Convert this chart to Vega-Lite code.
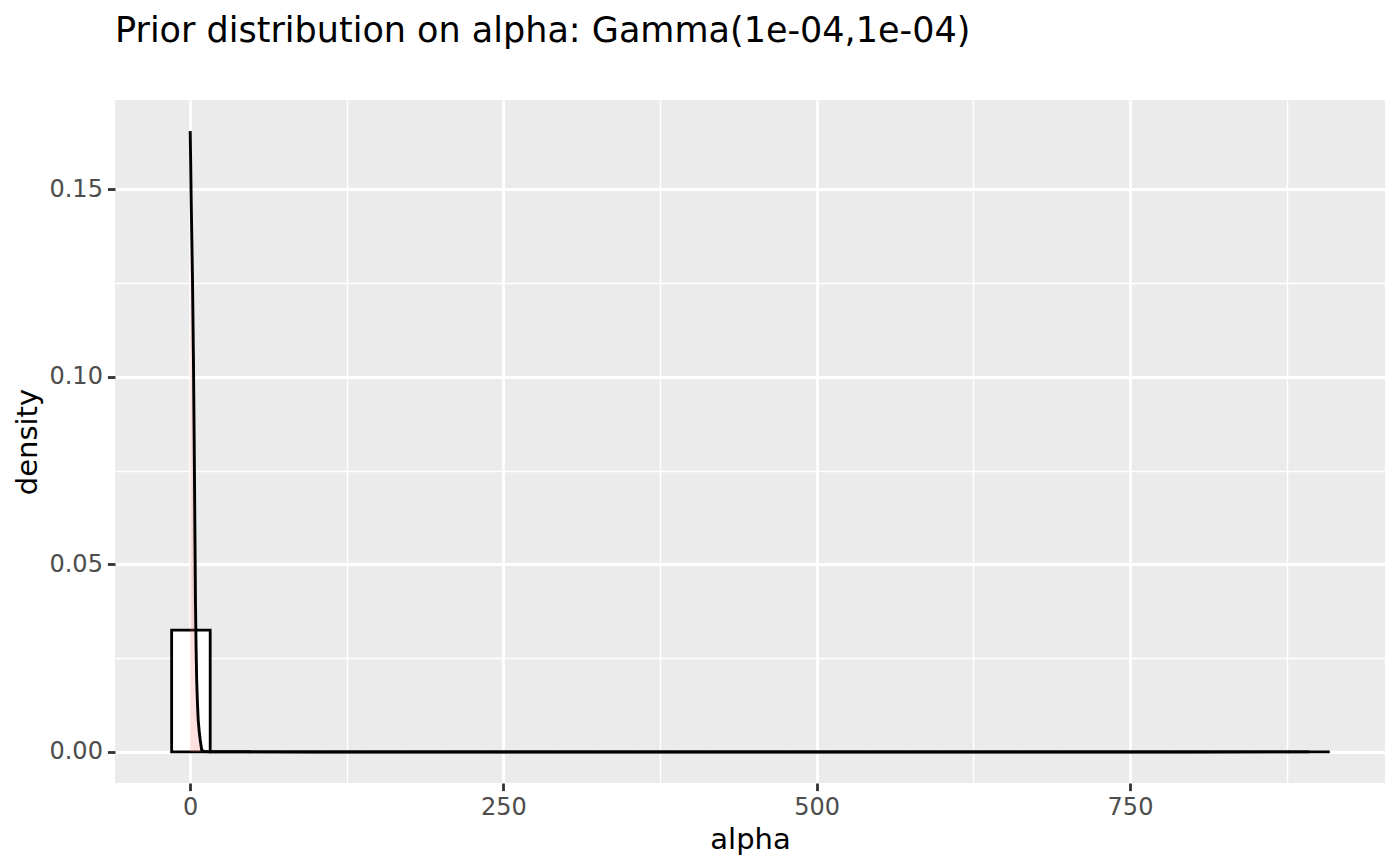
{
  "$schema": "https://vega.github.io/schema/vega-lite/v6.json",
  "width": 1270,
  "height": 683,
  "autosize": {"type": "none"},
  "padding": {"left": 115, "top": 100, "right": 15, "bottom": 83},
  "background": "white",
  "config": {
    "view": {"fill": "#EBEBEB", "stroke": null},
    "axis": {
      "domain": false,
      "gridColor": "white",
      "tickColor": "#333333",
      "tickWidth": 2.8,
      "tickSize": 7.6,
      "labelColor": "#4D4D4D",
      "labelFont": "DejaVu Sans",
      "labelFontSize": 24,
      "labelPadding": 5,
      "titleFont": "DejaVu Sans",
      "titleFontSize": 29,
      "titleFontWeight": "normal",
      "titleColor": "black",
      "titlePadding": 6
    }
  },
  "title": {
    "text": "Prior distribution on alpha: Gamma(1e-04,1e-04)",
    "anchor": "start",
    "frame": "group",
    "font": "DejaVu Sans",
    "fontSize": 35,
    "fontWeight": "normal",
    "color": "black",
    "baseline": "alphabetic",
    "offset": 23
  },
  "datasets": {
    "hist": [
      {"start": -14.80, "end": 15.97, "density": 0.0325},
      {"start": 15.97, "end": 46.74, "density": 0.0001},
      {"start": 46.74, "end": 77.51, "density": 0},
      {"start": 77.51, "end": 108.28, "density": 0},
      {"start": 108.28, "end": 139.05, "density": 0},
      {"start": 139.05, "end": 169.82, "density": 0},
      {"start": 169.82, "end": 200.59, "density": 0},
      {"start": 200.59, "end": 231.36, "density": 0},
      {"start": 231.36, "end": 262.13, "density": 0},
      {"start": 262.13, "end": 292.90, "density": 0},
      {"start": 292.90, "end": 323.67, "density": 0},
      {"start": 323.67, "end": 354.44, "density": 0},
      {"start": 354.44, "end": 385.21, "density": 0},
      {"start": 385.21, "end": 415.98, "density": 0},
      {"start": 415.98, "end": 446.75, "density": 0},
      {"start": 446.75, "end": 477.52, "density": 0},
      {"start": 477.52, "end": 508.29, "density": 0},
      {"start": 508.29, "end": 539.06, "density": 0},
      {"start": 539.06, "end": 569.83, "density": 0},
      {"start": 569.83, "end": 600.60, "density": 0},
      {"start": 600.60, "end": 631.37, "density": 0},
      {"start": 631.37, "end": 662.14, "density": 0},
      {"start": 662.14, "end": 692.91, "density": 0},
      {"start": 692.91, "end": 723.68, "density": 0},
      {"start": 723.68, "end": 754.45, "density": 0},
      {"start": 754.45, "end": 785.22, "density": 0},
      {"start": 785.22, "end": 815.99, "density": 0},
      {"start": 815.99, "end": 846.76, "density": 0},
      {"start": 846.76, "end": 877.53, "density": 0},
      {"start": 877.53, "end": 908.30, "density": 0.00003}
    ],
    "dens": [
      {"x": 0, "density": 0.1655},
      {"x": 0.4, "density": 0.157},
      {"x": 0.8, "density": 0.147},
      {"x": 1.3, "density": 0.137},
      {"x": 1.85, "density": 0.126},
      {"x": 2.6, "density": 0.1046},
      {"x": 3.2, "density": 0.083},
      {"x": 3.7, "density": 0.062},
      {"x": 4.2, "density": 0.0406},
      {"x": 4.7, "density": 0.028},
      {"x": 5.2, "density": 0.019},
      {"x": 5.8, "density": 0.013},
      {"x": 6.4, "density": 0.0085},
      {"x": 7.2, "density": 0.0055},
      {"x": 8.0, "density": 0.0032},
      {"x": 9.2, "density": 0.0005},
      {"x": 11, "density": 0.0001},
      {"x": 20, "density": 0.00002},
      {"x": 50, "density": 0.00001},
      {"x": 100, "density": 0},
      {"x": 200, "density": 0},
      {"x": 300, "density": 0},
      {"x": 400, "density": 0},
      {"x": 500, "density": 0},
      {"x": 600, "density": 0},
      {"x": 700, "density": 0},
      {"x": 800, "density": 0},
      {"x": 880, "density": 0.00001},
      {"x": 893, "density": 0.00001}
    ]
  },
  "layer": [
    {
      "data": {"name": "hist"},
      "mark": {"type": "rect", "fill": "white", "stroke": "black", "strokeWidth": 2.8},
      "encoding": {
        "x": {
          "field": "start", "type": "quantitative",
          "scale": {"domain": [-60, 953.5], "nice": false, "zero": false},
          "axis": {"orient": "bottom", "values": [0, 250, 500, 750], "grid": true, "gridWidth": 2.8, "title": "alpha", "labelOverlap": false}
        },
        "x2": {"field": "end"},
        "y": {
          "field": "density", "type": "quantitative",
          "scale": {"domain": [-0.00828, 0.1738], "nice": false, "zero": false},
          "axis": {"orient": "left", "values": [0, 0.05, 0.1, 0.15], "format": ".2f", "grid": true, "gridWidth": 2.8, "title": "density", "labelOverlap": false}
        },
        "y2": {"datum": 0}
      }
    },
    {
      "data": {"name": "dens"},
      "mark": {"type": "area", "fill": "#FF6666", "fillOpacity": 0.2, "stroke": null},
      "encoding": {
        "x": {
          "field": "x", "type": "quantitative",
          "axis": {"orient": "bottom", "values": [125, 375, 625, 875], "grid": true, "gridWidth": 1.4, "labels": false, "ticks": false, "title": null}
        },
        "y": {
          "field": "density", "type": "quantitative",
          "axis": {"orient": "left", "values": [0.025, 0.075, 0.125], "grid": true, "gridWidth": 1.4, "labels": false, "ticks": false, "title": null}
        },
        "y2": {"datum": 0}
      }
    },
    {
      "data": {"name": "dens"},
      "mark": {"type": "line", "color": "black", "strokeWidth": 2.9},
      "encoding": {
        "x": {"field": "x", "type": "quantitative", "axis": null},
        "y": {"field": "density", "type": "quantitative", "axis": null}
      }
    }
  ],
  "resolve": {"axis": {"x": "independent", "y": "independent"}}
}
